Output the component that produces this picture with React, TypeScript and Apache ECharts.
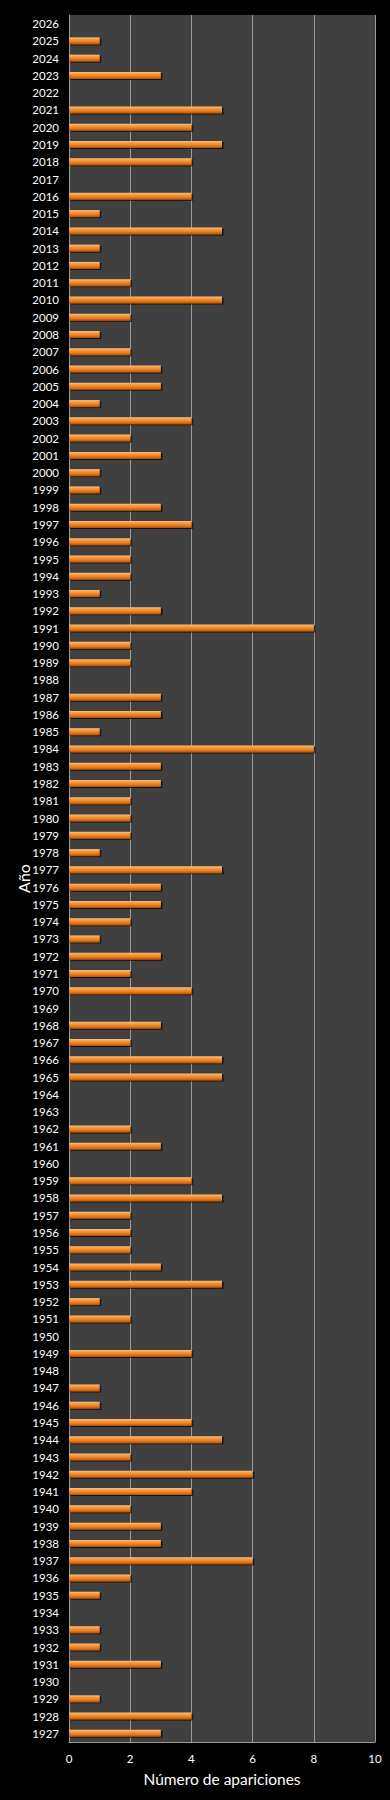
import React, { useEffect, useRef } from "react";
import * as echarts from "echarts";

const years: string[] = [];
for (let y = 1927; y <= 2026; y++) years.push(String(y));

// values from 1927 up to 2026
const counts: number[] = [
  3, 4, 1, 0, 3, 1, 1, 0, 1, 2, // 1927-1936
  6, 3, 3, 2, 4, 6, 2, 5, 4, 1, // 1937-1946
  1, 0, 4, 0, 2, 1, 5, 3, 2, 2, // 1947-1956
  2, 5, 4, 0, 3, 2, 0, 0, 5, 5, // 1957-1966
  2, 3, 0, 4, 2, 3, 1, 2, 3, 3, // 1967-1976
  5, 1, 2, 2, 2, 3, 3, 8, 1, 3, // 1977-1986
  3, 0, 2, 2, 8, 3, 1, 2, 2, 2, // 1987-1996
  4, 3, 1, 1, 3, 2, 4, 1, 3, 3, // 1997-2006
  2, 1, 2, 5, 2, 1, 1, 5, 1, 4, // 2007-2016
  0, 4, 5, 4, 5, 0, 3, 1, 1, 0, // 2017-2026
];

const xTicks = { min: 0, max: 10, interval: 2 };
const xName = "Número de apariciones";
const yName = "Año";

export default function App() {
  const ref = useRef<HTMLDivElement>(null);
  useEffect(() => {
    if (!ref.current) return;
    const chart = echarts.init(ref.current, undefined, { renderer: "svg" });
    const font = "Lato, 'Open Sans', sans-serif";
    chart.setOption({
      animation: false,
      backgroundColor: "#000000",
      textStyle: { fontFamily: font },
      grid: {
        left: 69,
        right: 15,
        top: 15,
        bottom: 58,
        show: true,
        backgroundColor: "#404040",
        borderWidth: 0,
      },
      xAxis: {
        type: "value",
        min: xTicks.min,
        max: xTicks.max,
        interval: xTicks.interval,
        name: xName,
        nameLocation: "middle",
        nameGap: 29,
        nameMoveOverlap: false,
        nameTextStyle: { color: "#ffffff", fontSize: 15.5, fontFamily: font },
        axisLine: { show: true, lineStyle: { color: "#9a9a9a", width: 1 } },
        axisTick: { show: false },
        axisLabel: { color: "#ffffff", fontSize: 11.5, margin: 10, fontFamily: font },
        splitLine: { show: true, lineStyle: { color: "#9a9a9a", width: 1 } },
      },
      yAxis: {
        type: "category",
        data: years,
        name: yName,
        nameLocation: "middle",
        nameGap: 38,
        nameMoveOverlap: false,
        nameRotate: 90,
        nameTextStyle: { color: "#ffffff", fontSize: 16, fontFamily: font },
        axisLine: { show: true, lineStyle: { color: "#9a9a9a", width: 1 } },
        axisTick: { show: false },
        axisLabel: { color: "#ffffff", fontSize: 11.5, margin: 10, interval: 0, fontFamily: font },
        splitLine: { show: false },
      },
      series: [
        {
          type: "bar",
          data: counts,
          barWidth: 7,
          itemStyle: {
            color: new echarts.graphic.LinearGradient(0, 0, 0, 1, [
              { offset: 0, color: "#fcc080" },
              { offset: 0.3, color: "#f59a3e" },
              { offset: 0.6, color: "#ee8020" },
              { offset: 1, color: "#b0520a" },
            ]),
            shadowColor: "rgba(0,0,0,0.75)",
            shadowOffsetX: 1.5,
            shadowOffsetY: 1,
            shadowBlur: 1,
          },
        },
      ],
    });
    return () => chart.dispose();
  }, []);
  return (
    <div
      ref={ref}
      style={{ position: "absolute", left: 0, top: 0, width: 390, height: 1800 }}
    />
  );
}
